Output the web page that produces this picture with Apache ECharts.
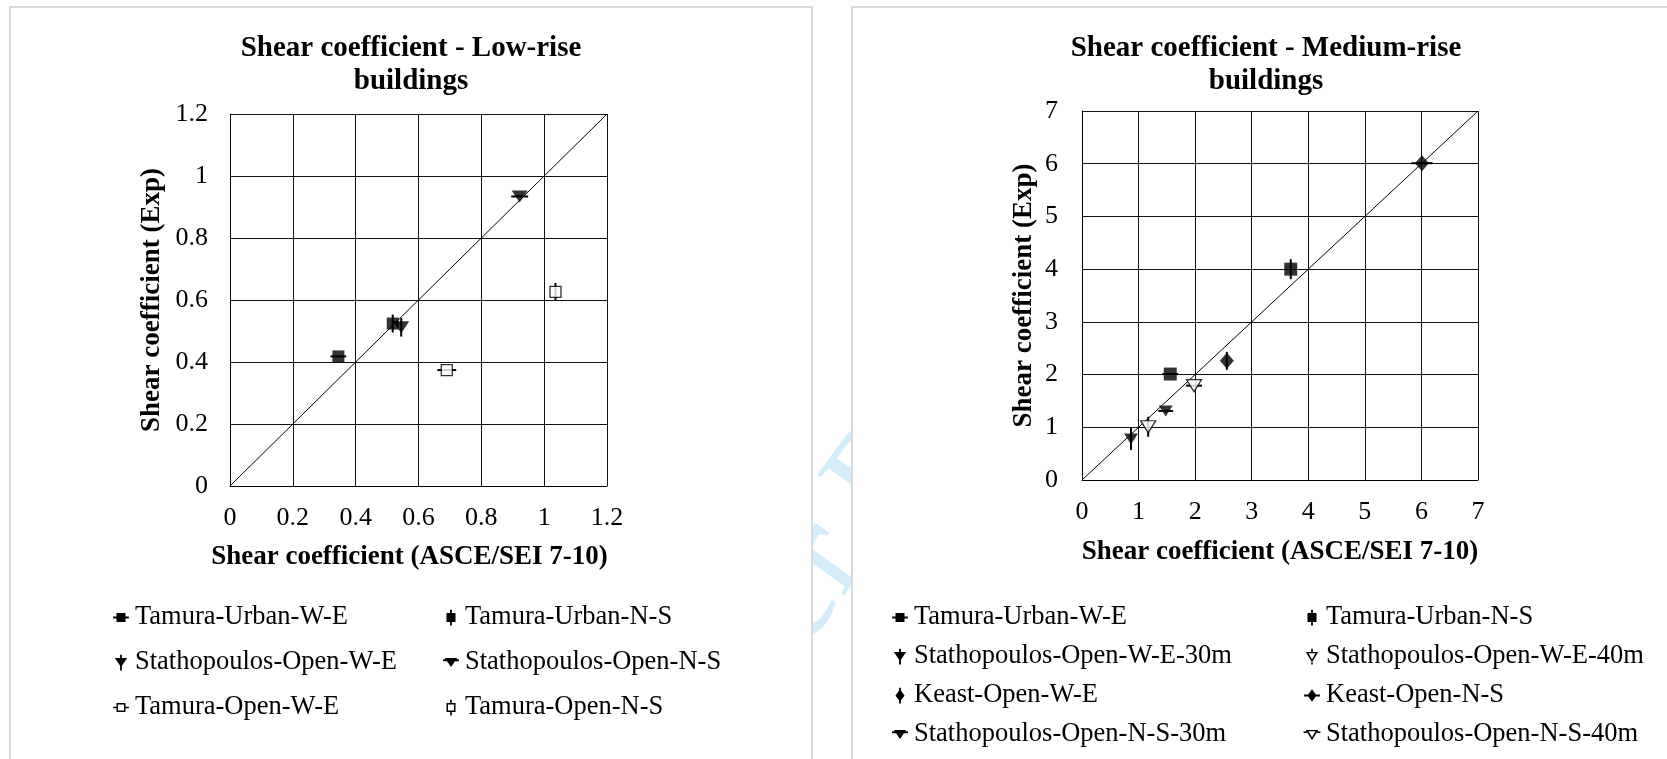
<!DOCTYPE html>
<html>
<head>
<meta charset="utf-8">
<script src="https://cdn.jsdelivr.net/npm/echarts@6/dist/echarts.min.js"></script>
<style>
  html, body { margin: 0; padding: 0; background: #fff; }
  #chart { width: 1667px; height: 759px; }
</style>
</head>
<body>
<div id="chart"></div>
<script>
// ---- Low-rise buildings ----
const lowNames = ['Tamura-Urban-W-E', 'Tamura-Urban-N-S', 'Stathopoulos-Open-W-E',
                  'Stathopoulos-Open-N-S', 'Tamura-Open-W-E', 'Tamura-Open-N-S'];
const lowAsce = [0.345, 0.518, 0.545, 0.922, 0.690, 1.036];
const lowExp  = [0.418, 0.524, 0.512, 0.934, 0.374, 0.626];
const lowErrX = [0.025, 0, 0, 0.027, 0.030, 0];
const lowErrY = [0, 0.029, 0.030, 0, 0, 0.029];
const lowAxis = [0, 1.2, 0.2];          // min, max, step
const lowMarks = ['sq', 'sq', 'tri', 'tri', 'sqo', 'sqo'];

// ---- Medium-rise buildings ----
const medNames = ['Tamura-Urban-W-E', 'Tamura-Urban-N-S', 'Stathopoulos-Open-W-E-30m',
                  'Stathopoulos-Open-W-E-40m', 'Keast-Open-W-E', 'Keast-Open-N-S',
                  'Stathopoulos-Open-N-S-30m', 'Stathopoulos-Open-N-S-40m'];
const medAsce = [1.56, 3.69, 0.866, 1.17, 2.56, 6.01, 1.48, 1.98];
const medExp  = [2.01, 4.00, 0.78, 1.01, 2.26, 6.01, 1.31, 1.79];
const medErrX = [0.14, 0, 0, 0, 0, 0.19, 0.13, 0.14];
const medErrY = [0, 0.19, 0.21, 0.19, 0.17, 0, 0, 0];
const medAxis = [0, 7, 1];
const medMarks = ['sq', 'sq', 'tri', 'trio', 'dia', 'dia', 'tri', 'trio'];

// legend columns (indices into the name lists)
const lowLegendCols = [[0, 2, 4], [1, 3, 5]];
const medLegendCols = [[0, 2, 4, 6], [1, 3, 5, 7]];

const FONT = 'Liberation Serif';
const TRI_DOWN = 'path://M0 0H2L1 1.8Z';

const markerStyle = {
  sq:   { symbol: 'rect',    open: false },
  sqo:  { symbol: 'rect',    open: true },
  tri:  { symbol: TRI_DOWN,  open: false },
  trio: { symbol: TRI_DOWN,  open: true },
  dia:  { symbol: 'diamond', open: false }
};
const lowSizes = { sq: [12, 12], sqo: [11, 11], tri: [16, 12] };
const medSizes = { sq: [13, 13], tri: [14, 11], trio: [15, 12], dia: [14, 16] };

// legend icon: marker outline plus its error bar, inside a 16x16 box
function legendIcon(kind, horizontal) {
  const box = 'M0 0M16 16';
  let shape = '', bars = '';
  if (kind === 'sq') {
    shape = 'M4 4H12V12H4Z';
    bars = horizontal ? 'M1 7.2H15V8.8H1Z' : 'M7.2 1H8.8V15H7.2Z';
  } else if (kind === 'sqo') {
    shape = 'M4 4H12V12H4Z M5.3 5.3V10.7H10.7V5.3Z';
    bars = horizontal ? 'M1 7.3H4V8.7H1Z M12 7.3H15V8.7H12Z'
                      : 'M7.3 1H8.7V4H7.3Z M7.3 12H8.7V15H7.3Z';
  } else if (kind === 'tri') {
    shape = 'M2.5 4H13.5L8 12Z';
    bars = horizontal ? 'M1 5.2H15V6.8H1Z' : 'M7.2 1H8.8V15H7.2Z';
  } else if (kind === 'trio') {
    shape = 'M2.5 4H13.5L8 13Z M4.9 5.2L8 10.7L11.1 5.2Z';
    bars = horizontal ? 'M0.5 5.3H3.5V6.7H0.5Z M12.5 5.3H15.5V6.7H12.5Z'
                      : 'M7.3 1H8.7V4H7.3Z M7.3 13H8.7V15H7.3Z';
  } else {
    shape = 'M8 2.5L12 8L8 13.5L4 8Z';
    bars = horizontal ? 'M1 7.2H15V8.8H1Z' : 'M7.2 1H8.8V15H7.2Z';
  }
  return 'path://' + box + ' ' + shape + ' ' + bars;
}

function buildSeries(names, xs, ys, ex, ey, marks, sizes, axisIdx, diag) {
  const out = [];
  // reference line y = x
  out.push({
    type: 'line', xAxisIndex: axisIdx, yAxisIndex: axisIdx, silent: true,
    symbol: 'none', z: 1, animation: false,
    lineStyle: { color: '#000', width: 1 },
    data: [[diag[0], diag[0]], [diag[1], diag[1]]]
  });
  names.forEach((name, i) => {
    const m = markerStyle[marks[i]];
    // error bar
    out.push({
      type: 'custom', name, xAxisIndex: axisIdx, yAxisIndex: axisIdx,
      silent: true, z: 2, animation: false,
      encode: { x: 0, y: 1 },
      data: [[xs[i], ys[i], ex[i], ey[i]]],
      renderItem: (params, api) => {
        const x = api.value(0), y = api.value(1), dx = api.value(2), dy = api.value(3);
        const kids = [];
        if (dx > 0) {
          const a = api.coord([x - dx, y]), b = api.coord([x + dx, y]);
          kids.push({ type: 'line', shape: { x1: a[0], y1: a[1], x2: b[0], y2: b[1] },
                      style: { stroke: '#000', lineWidth: 2 } });
        }
        if (dy > 0) {
          const a = api.coord([x, y - dy]), b = api.coord([x, y + dy]);
          kids.push({ type: 'line', shape: { x1: a[0], y1: a[1], x2: b[0], y2: b[1] },
                      style: { stroke: '#000', lineWidth: 2 } });
        }
        return { type: 'group', children: kids };
      }
    });
    // marker
    out.push({
      type: 'scatter', name, xAxisIndex: axisIdx, yAxisIndex: axisIdx,
      z: 3, animation: false, silent: true,
      symbol: m.symbol, symbolSize: sizes[marks[i]],
      itemStyle: m.open ? { color: '#fff', borderColor: '#000', borderWidth: 1.3 }
                        : { color: '#000' },
      data: [[xs[i], ys[i]]]
    });
  });
  return out;
}

function legendColumn(names, marks, ex, idxs, left, top, gap) {
  return {
    orient: 'vertical', left, top, itemGap: gap, padding: 0,
    itemWidth: 18, itemHeight: 18, selectedMode: false, symbolRotate: 0,
    itemStyle: { color: '#000', borderWidth: 0 },
    textStyle: { fontFamily: FONT, fontSize: 26.5, color: '#000', lineHeight: 27 },
    data: idxs.map(i => ({ name: names[i], icon: legendIcon(marks[i], ex[i] > 0) }))
  };
}

function valueAxis(range, gridIndex, name, nameGap, labelMargin, namePad) {
  return {
    type: 'value', gridIndex, min: range[0], max: range[1], interval: range[2],
    name, nameLocation: 'middle', nameGap,
    nameTextStyle: { fontFamily: FONT, fontSize: 27, fontWeight: 'bold', color: '#000',
                     padding: namePad || 0 },
    axisLine: { show: true, lineStyle: { color: '#000', width: 1 } },
    axisTick: { show: false },
    axisLabel: { fontFamily: FONT, fontSize: 26, color: '#000', margin: labelMargin },
    splitLine: { show: true, lineStyle: { color: '#111', width: 1 } }
  };
}

const chart = echarts.init(document.getElementById('chart'), null, { renderer: 'canvas' });

const option = {
  animation: false,
  backgroundColor: '#fff',
  graphic: [
    {
      type: 'text', z: -20, x: 835, y: 545, rotation: 0.95,
      style: { text: 'For Peer Review', fill: '#d3edfa', font: '140px "Liberation Serif"',
               align: 'center', verticalAlign: 'middle' }
    },
    { type: 'rect', z: -10, shape: { x: 10, y: 7, width: 802, height: 820 },
      style: { fill: '#fff', stroke: '#d9d9d9', lineWidth: 2 } },
    { type: 'rect', z: -10, shape: { x: 852, y: 7, width: 840, height: 820 },
      style: { fill: '#fff', stroke: '#d9d9d9', lineWidth: 2 } }
  ],
  title: [
    { text: 'Shear coefficient - Low-rise\nbuildings', left: 406, top: 27, textAlign: 'center',
      textStyle: { fontFamily: FONT, fontSize: 29, fontWeight: 'bold', color: '#000', lineHeight: 33 } },
    { text: 'Shear coefficient - Medium-rise\nbuildings', left: 1261, top: 27, textAlign: 'center',
      textStyle: { fontFamily: FONT, fontSize: 29, fontWeight: 'bold', color: '#000', lineHeight: 33 } }
  ],
  grid: [
    { left: 230, top: 114, width: 377, height: 372 },
    { left: 1082, top: 111, width: 396, height: 369 }
  ],
  xAxis: [
    valueAxis(lowAxis, 0, 'Shear coefficient (ASCE/SEI 7-10)', 58, 19, [0, 18, 0, 0]),
    valueAxis(medAxis, 1, 'Shear coefficient (ASCE/SEI 7-10)', 59, 19)
  ],
  yAxis: [
    valueAxis(lowAxis, 0, 'Shear coefficient (Exp)', 64, 22),
    valueAxis(medAxis, 1, 'Shear coefficient (Exp)', 44, 24)
  ],
  legend: [
    legendColumn(lowNames, lowMarks, lowErrX, lowLegendCols[0], 112, 604, 18),
    legendColumn(lowNames, lowMarks, lowErrX, lowLegendCols[1], 442, 604, 18),
    legendColumn(medNames, medMarks, medErrX, medLegendCols[0], 891, 604, 12),
    legendColumn(medNames, medMarks, medErrX, medLegendCols[1], 1303, 604, 12)
  ],
  series: [].concat(
    buildSeries(lowNames, lowAsce, lowExp, lowErrX, lowErrY, lowMarks, lowSizes, 0, [lowAxis[0], lowAxis[1]]),
    buildSeries(medNames, medAsce, medExp, medErrX, medErrY, medMarks, medSizes, 1, [medAxis[0], medAxis[1]])
  )
};

chart.setOption(option);
</script>
</body>
</html>
